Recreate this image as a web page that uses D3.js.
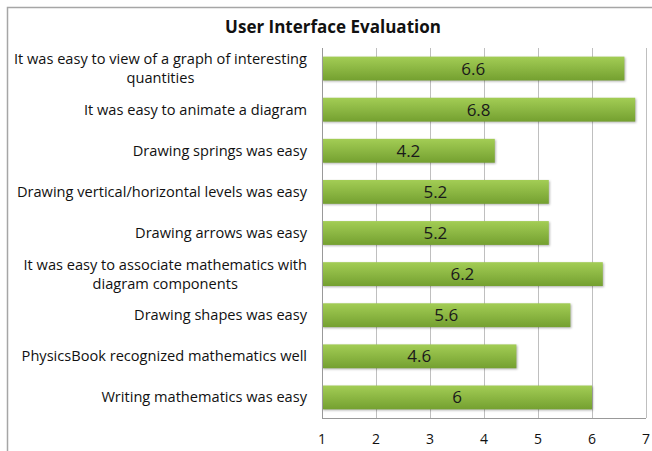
<!DOCTYPE html>
<html>
<head>
<meta charset="utf-8">
<script src="https://cdn.jsdelivr.net/npm/d3@7"></script>
<style>
  body { margin: 0; background: #fff; }
  svg { font-family: "Open Sans", sans-serif; }
</style>
</head>
<body>
<div id="chart"></div>
<script>
var categories = [
  ["It was easy to view of a graph of interesting", "quantities"],
  ["It was easy to animate a diagram"],
  ["Drawing springs was easy"],
  ["Drawing vertical/horizontal levels was easy"],
  ["Drawing arrows was easy"],
  ["It was easy to associate mathematics with", "diagram components"],
  ["Drawing shapes was easy"],
  ["PhysicsBook recognized mathematics well"],
  ["Writing mathematics was easy"]
];
var values = [6.6, 6.8, 4.2, 5.2, 5.2, 6.2, 5.6, 4.6, 6];
var xTicks = [1, 2, 3, 4, 5, 6, 7];

var W = 652, H = 451;
var margin = { top: 48, bottom: 33, left: 322, right: 6 };

var svg = d3.select("#chart").append("svg")
  .attr("width", W).attr("height", H);

var defs = svg.append("defs");
var grad = defs.append("linearGradient").attr("id", "barGrad")
  .attr("x1", 0).attr("y1", 0).attr("x2", 0).attr("y2", 1);
grad.append("stop").attr("offset", "0%").attr("stop-color", "#a3cd55");
grad.append("stop").attr("offset", "100%").attr("stop-color", "#74a030");

// outer frame
svg.append("rect")
  .attr("x", 7.5).attr("y", 7.5)
  .attr("width", W + 10).attr("height", H + 10)
  .attr("fill", "none").attr("stroke", "#a6a6a6").attr("stroke-width", 1.5);

svg.append("text")
  .attr("x", 333).attr("y", 33)
  .attr("text-anchor", "middle")
  .style("font-size", "17px").style("font-weight", "bold")
  .attr("fill", "#111")
  .text("User Interface Evaluation");

var x = d3.scaleLinear().domain([1, 7]).range([margin.left, W - margin.right]);
var y = d3.scaleBand().domain(d3.range(categories.length))
  .range([margin.top, H - margin.bottom]).paddingInner(0.42).paddingOuter(0.21);

// gridlines
svg.append("g")
  .selectAll("line")
  .data(xTicks.slice(1))
  .enter().append("line")
  .attr("x1", d => x(d) + 0.5).attr("x2", d => x(d) + 0.5)
  .attr("y1", margin.top).attr("y2", H - margin.bottom)
  .attr("stroke", "#bfbfbf").attr("stroke-width", 1);

// bars
svg.append("g")
  .selectAll("rect")
  .data(values)
  .enter().append("rect")
  .attr("x", x(1))
  .attr("y", (d, i) => y(i))
  .attr("width", d => x(d) - x(1))
  .attr("height", y.bandwidth())
  .attr("fill", "url(#barGrad)")
  .style("filter", "drop-shadow(1px 1px 1px rgba(0,0,0,0.3))");

// value labels
svg.append("g")
  .selectAll("text")
  .data(values)
  .enter().append("text")
  .attr("x", d => (x(1) + x(d)) / 2)
  .attr("y", (d, i) => y(i) + y.bandwidth() / 2 + 6)
  .attr("text-anchor", "middle")
  .style("font-size", "17px")
  .attr("fill", "#1a1a1a")
  .text(d => d);

// axes lines
svg.append("line")
  .attr("x1", x(1) + 0.5).attr("x2", x(1) + 0.5)
  .attr("y1", margin.top).attr("y2", H - margin.bottom)
  .attr("stroke", "#999");
svg.append("line")
  .attr("x1", x(1)).attr("x2", x(7))
  .attr("y1", H - margin.bottom + 0.5).attr("y2", H - margin.bottom + 0.5)
  .attr("stroke", "#999");

// x tick labels
svg.append("g")
  .selectAll("text")
  .data(xTicks)
  .enter().append("text")
  .attr("x", d => x(d))
  .attr("y", H - 7)
  .attr("text-anchor", "middle")
  .style("font-size", "14px")
  .attr("fill", "#111")
  .text(d => d);

// category labels
var labelRight = 307;
categories.forEach(function(lines, i) {
  var g = svg.append("g");
  var cy = y(i) + y.bandwidth() / 2;
  var lh = 19;
  var t0 = cy - (lines.length - 1) * lh / 2 + 5;
  var first = g.append("text")
    .attr("x", labelRight).attr("y", t0)
    .attr("text-anchor", "end")
    .style("font-size", "14.6px").attr("fill", "#111")
    .text(lines[0]);
  if (lines.length > 1) {
    var w = first.node().getComputedTextLength();
    g.append("text")
      .attr("x", labelRight - w / 2).attr("y", t0 + lh)
      .attr("text-anchor", "middle")
      .style("font-size", "14.6px").attr("fill", "#111")
      .text(lines[1]);
  }
});
</script>
</body>
</html>
